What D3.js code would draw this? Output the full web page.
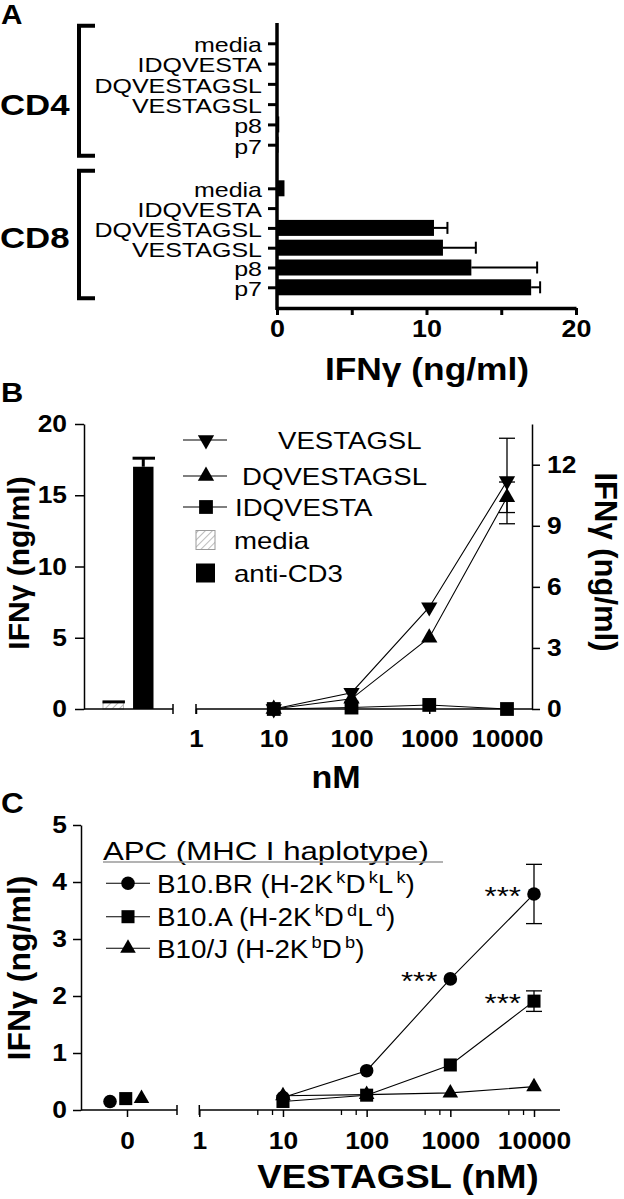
<!DOCTYPE html>
<html><head><meta charset="utf-8">
<script src="https://cdn.jsdelivr.net/npm/d3@7"></script>
<style>
body{margin:0;background:#fff}
svg{display:block}
text{font-family:"Liberation Sans",Arial,Helvetica,sans-serif;fill:#000}
</style>
</head><body>
<svg id="c" width="624" height="1199"></svg>
<script>
// ---------------- DATA ----------------
// Panel A
const aCategories = ["media","IDQVESTA","DQVESTAGSL","VESTAGSL","p8","p7"];
const aGroups = ["CD4","CD8"];
const aCD4Values = [0, 0, 0.05, 0, 0.15, 0.1];
const aCD4Errors = [0, 0, 0, 0, 0, 0];
const aCD8Values = [0.5, 0, 10.5, 11.1, 13.0, 17.0];
const aCD8Errors = [0, 0, 0.9, 2.2, 4.4, 0.6];
const aXTicks = [0, 5, 10, 15, 20];
const aXTickLabels = ["0", "", "10", "", "20"];
const aXTitle = "IFNγ (ng/ml)";

// Panel B
const bBarCategories = ["media","anti-CD3"];
const bBarValues = [0.5, 17.0];
const bBarErrors = [0, 0.6];
const bLeftTicks = [0, 5, 10, 15, 20];
const bRightTicks = [0, 3, 6, 9, 12];
const bXTicks = [1, 10, 100, 1000, 10000];
const bConc = [10, 100, 1000, 10000];
const bSeriesNames = ["VESTAGSL","DQVESTAGSL","IDQVESTA"];
const bVESTAGSL = [0, 0.8, 5.0, 11.2];
const bVESTAGSLErr = [0, 0, 0, 2.1];
const bDQVESTAGSL = [0, 0.5, 3.5, 10.4];
const bDQVESTAGSLErr = [0, 0, 0, 0.75];
const bIDQVESTA = [0, 0.07, 0.2, 0];
const bIDQVESTAErr = [0, 0, 0, 0];
const bYTitle = "IFNγ (ng/ml)";
const bXTitle = "nM";

// Panel C
const cSeriesNames = ["B10.BR","B10.A","B10/J"];
const cConc = [10, 100, 1000, 10000];
const cZeroValues = [0.15, 0.2, 0.2];
const cB10BR = [0.22, 0.69, 2.3, 3.79];
const cB10BRErr = [0, 0, 0, 0.52];
const cB10A = [0.15, 0.26, 0.79, 1.91];
const cB10AErr = [0, 0, 0, 0.18];
const cB10J = [0.25, 0.27, 0.3, 0.41];
const cB10JErr = [0, 0, 0, 0];
const cYTicks = [0, 1, 2, 3, 4, 5];
const cXTicks = [1, 10, 100, 1000, 10000];
const cMinorTicks = [5, 7.5, 50, 75, 500, 750, 5000, 7500];
const cStars = [["B10.BR", 1000], ["B10.BR", 10000], ["B10.A", 10000]];
const cLegendTitle = "APC (MHC I haplotype)";
const cLegendLabels = [
  [["B10.BR (H-2K",""],["k","sup"],["D",""],["k","sup"],["L",""],["k","sup"],[")",""]],
  [["B10.A (H-2K",""],["k","sup"],["D",""],["d","sup"],["L",""],["d","sup"],[")",""]],
  [["B10/J (H-2K",""],["b","sup"],["D",""],["b","sup"],[")",""]]
];
const cYTitle = "IFNγ (ng/ml)";
const cXTitle = "VESTAGSL (nM)";

// ---------------- HELPERS ----------------
const svg = d3.select("#c");

function txt(parent, x, y, str, o) {
  o = o || {};
  const g = parent.append("g").attr("transform",
    `translate(${x},${y})` + (o.rotate ? ` rotate(${o.rotate})` : "") + ` scale(${o.sx || 1},${o.sy || 1})`);
  return g.append("text")
    .attr("text-anchor", o.anchor || "start")
    .attr("font-size", o.size || 20)
    .attr("font-weight", o.weight || "normal")
    .text(str);
}

function styleAxis(g, size, sx, weight, tickWidth) {
  g.attr("font-size", null).attr("font-family", null);
  g.selectAll(".tick line").attr("stroke-width", tickWidth);
  g.selectAll("text").each(function () {
    const t = d3.select(this);
    const x = +t.attr("x") || 0;
    t.attr("x", x / sx).attr("transform", `scale(${sx},1)`)
      .attr("font-size", size).attr("font-weight", weight);
  });
}

const symbols = {
  down: d3.symbol(d3.symbolTriangle, 115),
  up: d3.symbol(d3.symbolTriangle, 115),
  square: d3.symbol(d3.symbolSquare, 190),
  circle: d3.symbol(d3.symbolCircle, Math.PI * 46),
  tri: d3.symbol(d3.symbolTriangle, 105),
  csquare: d3.symbol(d3.symbolSquare, 170)
};
function marker(parent, type, x, y) {
  const rot = type === "down" ? " rotate(180)" : "";
  parent.append("path").attr("d", symbols[type]())
    .attr("transform", `translate(${x},${y})${rot}`).attr("fill", "#000");
}

// hatch pattern
const defs = svg.append("defs");
const pat = defs.append("pattern").attr("id", "hatch").attr("patternUnits", "userSpaceOnUse")
  .attr("width", 5).attr("height", 5).attr("patternTransform", "rotate(45)");
pat.append("rect").attr("width", 5).attr("height", 5).attr("fill", "#fff");
pat.append("line").attr("x1", 0).attr("y1", 0).attr("x2", 0).attr("y2", 5)
  .attr("stroke", "#9a9a9a").attr("stroke-width", 1.3);

// panel letters
txt(svg, 1, 24, "A", {size: 27, weight: "bold", sx: 1.1});
txt(svg, 1, 402, "B", {size: 28, weight: "bold", sx: 1.1});
txt(svg, 1, 813, "C", {size: 30, weight: "bold", sx: 1.05});

// ---------------- PANEL A ----------------
{
  const gA = svg.append("g");
  const xA = d3.scaleLinear().domain([0, 20]).range([277, 576]);
  const yScales = {
    CD4: d3.scalePoint().domain(aCategories).range([43.3, 144.7]),
    CD8: d3.scalePoint().domain(aCategories).range([188.3, 287.3])
  };
  const groupVals = {CD4: [aCD4Values, aCD4Errors], CD8: [aCD8Values, aCD8Errors]};
  const groupLabelY = {CD4: 104.7, CD8: 237.5};
  const axisY = 308;

  aGroups.forEach(grp => {
    const y = yScales[grp];
    const [vals, errs] = groupVals[grp];
    const rows = aCategories.map((c, i) => ({c, v: vals[i], e: errs[i]}));
    gA.selectAll(null).data(rows).join("rect")
      .attr("x", xA(0)).attr("y", d => y(d.c) - 8)
      .attr("width", d => xA(d.v) - xA(0)).attr("height", 16).attr("fill", "#000");
    const er = rows.filter(d => d.e > 0);
    gA.selectAll(null).data(er).join("line")
      .attr("x1", d => xA(d.v)).attr("x2", d => xA(d.v + d.e))
      .attr("y1", d => y(d.c)).attr("y2", d => y(d.c))
      .attr("stroke", "#000").attr("stroke-width", 2);
    gA.selectAll(null).data(er).join("line")
      .attr("x1", d => xA(d.v + d.e)).attr("x2", d => xA(d.v + d.e))
      .attr("y1", d => y(d.c) - 6).attr("y2", d => y(d.c) + 6)
      .attr("stroke", "#000").attr("stroke-width", 2);
    const ax = gA.append("g").attr("transform", `translate(${xA(0)},0)`)
      .call(d3.axisLeft(y).tickSize(9).tickPadding(6));
    ax.select(".domain").remove();
    styleAxis(ax, 21, 1.19, "normal", 3);
    ax.selectAll("text").attr("dy", "0.4em");
    const top = y.range()[0] - 17.5, bot = y.range()[1] + 11;
    gA.append("path").attr("d", `M95,${top}H79V${bot}H95`)
      .attr("fill", "none").attr("stroke", "#000").attr("stroke-width", 4);
    txt(gA, 0, groupLabelY[grp] + 10.5, grp, {size: 29, weight: "bold", sx: 1.2});
  });

  gA.append("line").attr("x1", xA(0)).attr("x2", xA(0)).attr("y1", 23).attr("y2", axisY + 2)
    .attr("stroke", "#000").attr("stroke-width", 3.5);
  const axX = gA.append("g").attr("transform", `translate(0,${axisY})`)
    .call(d3.axisBottom(xA).tickValues(aXTicks).tickFormat((d, i) => aXTickLabels[i])
      .tickSize(7).tickSizeOuter(0).tickPadding(5));
  axX.select(".domain").attr("stroke-width", 3.5);
  styleAxis(axX, 24, 1.12, "bold", 3);
  txt(gA, 427, 380, aXTitle, {size: 31, weight: "bold", anchor: "middle", sx: 1.14});
}

// ---------------- PANEL B ----------------
{
  const gB = svg.append("g");
  const y0 = 709, yTop = 424;
  const yL = d3.scaleLinear().domain([0, 20]).range([y0, yTop]);
  const yR = d3.scaleLinear().domain([0, 14]).range([y0, yTop]);
  const xBar = d3.scaleBand().domain(bBarCategories).range([103, 153.5]).paddingInner(0.32).paddingOuter(0);
  const xB = d3.scaleLog().domain([1, 10000]).range([196, 507]);
  const leftX = 84, leftEnd = 173, rightAxisX = 532;

  const bars = bBarCategories.map((c, i) => ({c, v: bBarValues[i], e: bBarErrors[i]}));
  gB.selectAll(null).data(bars).join("rect")
    .attr("x", d => xBar(d.c)).attr("y", d => yL(d.v))
    .attr("width", xBar.bandwidth()).attr("height", d => y0 - yL(d.v))
    .attr("fill", d => d.c === "media" ? "url(#hatch)" : "#000")
    .attr("stroke", d => d.c === "media" ? "#b5b5b5" : "none").attr("stroke-width", 1);
  gB.selectAll(null).data(bars).join("line")
    .attr("x1", d => xBar(d.c) + xBar.bandwidth() / 2).attr("x2", d => xBar(d.c) + xBar.bandwidth() / 2)
    .attr("y1", d => yL(d.v)).attr("y2", d => yL(d.v + d.e))
    .attr("stroke", "#000").attr("stroke-width", 3);
  gB.selectAll(null).data(bars).join("line")
    .attr("x1", d => xBar(d.c) - 0.5).attr("x2", d => xBar(d.c) + xBar.bandwidth() + 1.5)
    .attr("y1", d => yL(d.v + d.e)).attr("y2", d => yL(d.v + d.e))
    .attr("stroke", "#000").attr("stroke-width", 3);

  const axL = gB.append("g").attr("transform", `translate(${leftX},0)`)
    .call(d3.axisLeft(yL).tickValues(bLeftTicks).tickSize(9).tickPadding(8).tickSizeOuter(0));
  axL.select(".domain").attr("stroke-width", 1.5);
  styleAxis(axL, 24, 1.1, "bold", 1.5);
  gB.append("line").attr("x1", leftX).attr("x2", leftEnd).attr("y1", y0).attr("y2", y0)
    .attr("stroke", "#000").attr("stroke-width", 1.5);
  gB.append("line").attr("x1", leftEnd).attr("x2", leftEnd).attr("y1", y0 - 5).attr("y2", y0 + 5)
    .attr("stroke", "#000").attr("stroke-width", 1.5);

  const axB = gB.append("g").attr("transform", `translate(0,${y0})`)
    .call(d3.axisBottom(xB).tickValues(bXTicks).tickFormat(d3.format("d")).tickSize(5).tickPadding(16).tickSizeOuter(0));
  axB.select(".domain").remove();
  styleAxis(axB, 24, 1.08, "bold", 1.5);
  gB.append("line").attr("x1", xB(1)).attr("x2", rightAxisX).attr("y1", y0).attr("y2", y0)
    .attr("stroke", "#000").attr("stroke-width", 1.5);
  gB.append("line").attr("x1", xB(1)).attr("x2", xB(1)).attr("y1", y0 - 5).attr("y2", y0 + 5)
    .attr("stroke", "#000").attr("stroke-width", 1.5);

  const axR = gB.append("g").attr("transform", `translate(${rightAxisX},0)`)
    .call(d3.axisRight(yR).tickValues(bRightTicks).tickSize(8).tickPadding(7).tickSizeOuter(0));
  axR.select(".domain").attr("stroke-width", 1.5);
  styleAxis(axR, 24, 1.1, "bold", 1.5);

  const series = [
    {name: bSeriesNames[0], v: bVESTAGSL, e: bVESTAGSLErr, sym: "down"},
    {name: bSeriesNames[1], v: bDQVESTAGSL, e: bDQVESTAGSLErr, sym: "up"},
    {name: bSeriesNames[2], v: bIDQVESTA, e: bIDQVESTAErr, sym: "square"}
  ];
  const line = d3.line().x((d, i) => xB(bConc[i])).y(d => yR(d));
  series.forEach(s => {
    gB.append("path").attr("d", line(s.v)).attr("fill", "none").attr("stroke", "#000").attr("stroke-width", 1.1);
  });
  series.forEach(s => {
    s.e.forEach((e, i) => {
      if (e <= 0) return;
      const x = xB(bConc[i]);
      gB.append("line").attr("x1", x).attr("x2", x).attr("y1", yR(s.v[i] - e)).attr("y2", yR(s.v[i] + e))
        .attr("stroke", "#000").attr("stroke-width", 1.3);
      [s.v[i] - e, s.v[i] + e].forEach(val => {
        gB.append("line").attr("x1", x - 8).attr("x2", x + 8).attr("y1", yR(val)).attr("y2", yR(val))
          .attr("stroke", "#000").attr("stroke-width", 1.3);
      });
    });
  });
  series.forEach(s => s.v.forEach((v, i) => marker(gB, s.sym, xB(bConc[i]), yR(v))));

  const legY = [440, 476, 507, 540, 573];
  const legTextX = [278, 242, 235, 234, 234];
  const legNames = bSeriesNames.concat(bBarCategories);
  legNames.forEach((n, i) => {
    const y = legY[i];
    if (i < 3) {
      gB.append("line").attr("x1", 183).attr("x2", 227).attr("y1", y).attr("y2", y)
        .attr("stroke", "#000").attr("stroke-width", 1.1);
      marker(gB, series[i].sym, 206, y);
    } else {
      gB.append("rect").attr("x", 196).attr("y", y - 9.5).attr("width", 19).attr("height", 19)
        .attr("fill", n === "media" ? "url(#hatch)" : "#000")
        .attr("stroke", n === "media" ? "#9a9a9a" : "none");
    }
    txt(gB, legTextX[i], y + 8.5, n, {size: 23, sx: 1.2});
  });

  txt(gB, 29, 563, bYTitle, {size: 30, weight: "bold", anchor: "middle", rotate: -90});
  txt(gB, 595, 562, bYTitle, {size: 31, weight: "bold", anchor: "middle", rotate: 90});
  txt(gB, 336, 788, bXTitle, {size: 31, weight: "bold", anchor: "middle", sx: 1.1});
}

// ---------------- PANEL C ----------------
{
  const gC = svg.append("g");
  const y0 = 1110, yTop = 825;
  const yC = d3.scaleLinear().domain([0, 5]).range([y0, yTop]);
  const xC = d3.scaleLog().domain([1, 10000]).range([199.3, 534]);
  const xZero = d3.scaleBand().domain(["0"]).range([78, 177]);
  const dodge = d3.scalePoint().domain(cSeriesNames).range([-17.5, 14]);
  const leftX = 81, leftEnd = 177, rightEnd = 560;

  const axL = gC.append("g").attr("transform", `translate(${leftX},0)`)
    .call(d3.axisLeft(yC).tickValues(cYTicks).tickFormat(d3.format("d")).tickSize(8).tickPadding(6).tickSizeOuter(0));
  axL.select(".domain").attr("stroke-width", 1.5);
  styleAxis(axL, 24, 1.1, "bold", 1.5);

  gC.append("line").attr("x1", leftX).attr("x2", leftEnd).attr("y1", y0).attr("y2", y0)
    .attr("stroke", "#000").attr("stroke-width", 1.5);
  gC.append("line").attr("x1", leftEnd).attr("x2", leftEnd).attr("y1", y0 - 5).attr("y2", y0 + 5)
    .attr("stroke", "#000").attr("stroke-width", 1.5);
  const axZ = gC.append("g").attr("transform", `translate(0,${y0})`)
    .call(d3.axisBottom(xZero).tickSize(7).tickPadding(15).tickSizeOuter(0));
  axZ.select(".domain").remove();
  styleAxis(axZ, 24, 1.1, "bold", 1.5);

  const axB = gC.append("g").attr("transform", `translate(0,${y0})`)
    .call(d3.axisBottom(xC).tickValues(cXTicks).tickFormat(d3.format("d")).tickSize(7).tickPadding(15).tickSizeOuter(0));
  axB.select(".domain").remove();
  styleAxis(axB, 24, 1.1, "bold", 1.5);
  gC.append("g").selectAll("line").data(cMinorTicks).join("line")
    .attr("x1", d => xC(d)).attr("x2", d => xC(d)).attr("y1", y0).attr("y2", y0 + 5)
    .attr("stroke", "#000").attr("stroke-width", 1.3);
  gC.append("line").attr("x1", xC(1)).attr("x2", rightEnd).attr("y1", y0).attr("y2", y0)
    .attr("stroke", "#000").attr("stroke-width", 1.5);
  gC.append("line").attr("x1", xC(1)).attr("x2", xC(1)).attr("y1", y0 - 5).attr("y2", y0 + 5)
    .attr("stroke", "#000").attr("stroke-width", 1.5);

  const series = [
    {name: cSeriesNames[0], v: cB10BR, e: cB10BRErr, sym: "circle"},
    {name: cSeriesNames[1], v: cB10A, e: cB10AErr, sym: "csquare"},
    {name: cSeriesNames[2], v: cB10J, e: cB10JErr, sym: "tri"}
  ];
  const line = d3.line().x((d, i) => xC(cConc[i])).y(d => yC(d));
  series.forEach(s => gC.append("path").attr("d", line(s.v)).attr("fill", "none")
    .attr("stroke", "#000").attr("stroke-width", 1.1));
  series.forEach(s => s.e.forEach((e, i) => {
    if (e <= 0) return;
    const x = xC(cConc[i]);
    gC.append("line").attr("x1", x).attr("x2", x).attr("y1", yC(s.v[i] - e)).attr("y2", yC(s.v[i] + e))
      .attr("stroke", "#000").attr("stroke-width", 1.3);
    [s.v[i] - e, s.v[i] + e].forEach(val => gC.append("line").attr("x1", x - 8).attr("x2", x + 8)
      .attr("y1", yC(val)).attr("y2", yC(val)).attr("stroke", "#000").attr("stroke-width", 1.3));
  }));
  series.forEach(s => s.v.forEach((v, i) => marker(gC, s.sym, xC(cConc[i]), yC(v))));
  const zc = xZero("0") + xZero.bandwidth() / 2;
  series.forEach((s, i) => marker(gC, s.sym, zc + dodge(s.name), yC(cZeroValues[i])));

  cStars.forEach(([name, conc]) => {
    const s = series.find(d => d.name === name);
    const v = s.v[cConc.indexOf(conc)];
    txt(gC, xC(conc) - 13, yC(v) + 11, "***", {size: 26, anchor: "end", sx: 1.2});
  });

  txt(gC, 103, 860, cLegendTitle, {size: 26, sx: 1.2});
  gC.append("line").attr("x1", 103).attr("x2", 443).attr("y1", 862).attr("y2", 862)
    .attr("stroke", "#9a9a9a").attr("stroke-width", 1.5);
  const legY = [883.3, 916.7, 948.3];
  cLegendLabels.forEach((parts, i) => {
    const y = legY[i];
    gC.append("line").attr("x1", 106).attr("x2", 150).attr("y1", y).attr("y2", y)
      .attr("stroke", "#000").attr("stroke-width", 1.1);
    marker(gC, series[i].sym, 128, y);
    const t = txt(gC, 157, y + 9.5, "", {size: 26, sx: 1.07});
    let prevSup = false;
    parts.forEach(([str, kind]) => {
      const sp = t.append("tspan").text(str);
      if (kind === "sup") {
        sp.attr("font-size", 17).attr("dy", -10).attr("dx", 3);
        prevSup = true;
      } else if (prevSup) {
        sp.attr("dy", 10);
        prevSup = false;
      }
    });
  });

  txt(gC, 30, 968, cYTitle, {size: 32, weight: "bold", anchor: "middle", rotate: -90});
  txt(gC, 398, 1188, cXTitle, {size: 33, weight: "bold", anchor: "middle", sx: 1.11});
}
</script>
</body></html>
